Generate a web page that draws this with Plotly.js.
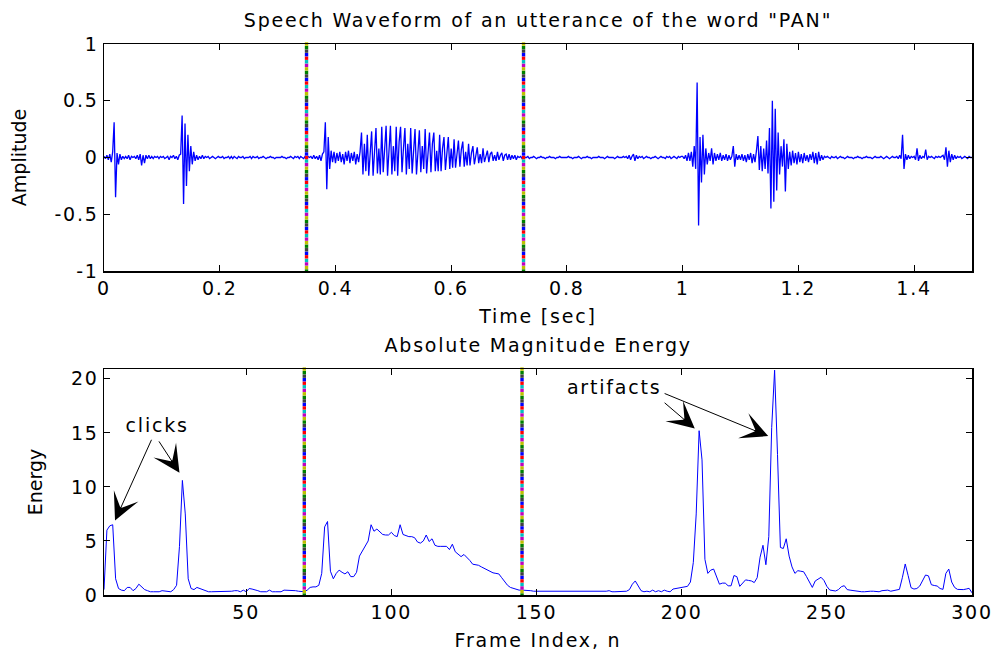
<!DOCTYPE html>
<html>
<head>
<meta charset="utf-8">
<script src="https://cdn.plot.ly/plotly-3.0.1.min.js"></script>
<style>
  html, body { margin: 0; padding: 0; background: #fff; }
  #chart { width: 998px; height: 652px; }
  /* the reference text is horizontally stretched: widen horizontal text a little */
  #chart svg text { letter-spacing: 1.8px; }
  #chart svg text.ytitle, #chart svg text.y2title { letter-spacing: 0px; }
</style>
</head>
<body>
<div id="chart"></div>
<script>
// ---------------- DATA ----------------
// Waveform amplitude samples, one every 0.0025 s from 0 to 1.5 s
const waveStep = 0.0025;
const waveAmp = [
  0.01,-0.01,0.02,-0.02,0.03,-0.04,0.05,0.31,-0.35,0.04,-0.06,0.03,-0.02,0.01,-0.01,0.01,-0.01,0.02,-0.02,0.01,
  0.00,0.01,-0.01,0.02,-0.02,0.03,-0.07,0.02,-0.05,0.02,-0.01,0.02,-0.01,0.01,-0.01,0.01,0.00,0.01,-0.01,0.01,
  0.00,0.01,-0.01,0.00,0.01,-0.02,0.01,0.00,0.02,-0.01,0.01,-0.02,0.02,0.03,0.37,-0.41,0.30,-0.25,0.20,-0.12,
  0.10,-0.06,0.05,-0.03,0.02,-0.02,0.01,-0.01,0.02,-0.01,0.01,0.00,0.01,-0.01,0.00,0.01,0.00,-0.01,0.00,0.01,
  0.00,0.00,0.01,-0.01,0.00,0.00,0.01,-0.01,0.01,-0.01,0.01,0.00,-0.01,0.01,0.00,0.00,0.01,-0.01,0.00,0.00,
  0.00,0.01,-0.01,0.01,0.00,0.00,0.01,-0.01,0.00,0.00,0.01,0.00,-0.01,0.00,0.00,0.01,0.00,0.00,-0.01,0.00,
  0.00,0.00,0.00,0.01,0.00,0.00,-0.01,0.00,0.00,0.01,0.00,-0.01,0.01,0.00,0.01,-0.01,0.01,0.00,-0.01,0.01,
  -0.01,0.01,0.00,0.01,-0.01,0.02,-0.01,0.01,-0.02,0.02,-0.03,0.03,0.05,0.31,-0.28,0.18,-0.10,0.06,-0.04,0.05,
  -0.05,0.04,-0.03,0.05,-0.04,0.03,-0.06,0.05,-0.03,0.06,-0.05,0.04,-0.03,0.05,-0.06,0.03,-0.04,0.05,0.22,-0.15,
  0.12,-0.12,0.20,-0.16,0.05,0.23,-0.16,0.10,0.26,-0.14,0.08,-0.15,0.27,-0.13,0.12,0.28,-0.16,0.06,0.28,-0.15,
  0.10,-0.12,0.27,-0.16,0.14,0.27,-0.13,0.08,0.26,-0.15,0.12,-0.10,0.26,-0.14,0.10,0.25,-0.15,0.07,0.24,-0.13,
  0.10,-0.10,0.25,-0.14,0.08,0.22,-0.13,0.12,0.22,-0.12,0.06,-0.12,0.20,-0.12,0.08,0.18,-0.11,0.05,0.18,-0.10,
  0.08,-0.09,0.16,-0.09,0.06,0.15,-0.08,0.07,0.14,-0.08,0.05,-0.07,0.12,-0.07,0.04,0.10,-0.06,0.04,0.09,-0.05,
  0.03,-0.05,0.08,-0.04,0.02,0.06,-0.04,0.03,0.05,-0.03,0.02,-0.03,0.05,-0.02,0.02,0.04,-0.03,0.02,0.03,-0.02,
  0.03,-0.02,0.02,-0.01,0.02,-0.02,0.01,0.00,0.01,-0.01,0.01,0.00,0.00,0.01,-0.01,0.00,0.00,0.01,0.00,-0.01,
  0.00,0.00,0.01,0.00,0.00,-0.01,0.00,0.00,0.01,0.00,0.00,0.00,-0.01,0.00,0.00,0.01,0.00,0.00,0.00,0.00,
  0.00,0.01,0.00,0.00,-0.01,0.00,0.00,0.00,0.01,0.00,-0.01,0.00,0.00,0.00,0.01,0.00,0.00,-0.01,0.00,0.00,
  0.00,0.00,0.01,0.00,0.00,0.00,-0.01,0.00,0.01,0.00,0.00,0.00,0.00,-0.01,0.00,0.01,0.00,0.00,0.00,0.01,
  0.00,0.01,-0.01,0.02,-0.02,0.01,0.03,-0.03,0.02,-0.01,0.01,0.00,0.01,-0.01,0.00,0.01,0.00,0.00,-0.01,0.00,
  0.00,0.01,0.00,-0.01,0.00,0.01,0.00,0.00,-0.01,0.01,0.00,0.01,-0.01,0.00,0.01,0.00,-0.01,0.01,0.00,0.01,
  0.01,-0.01,0.02,-0.03,0.04,-0.03,0.05,-0.08,0.10,-0.10,0.66,-0.60,0.18,-0.22,0.20,-0.15,0.08,-0.06,0.04,-0.03,
  0.08,-0.06,0.04,-0.03,0.03,-0.02,0.04,-0.03,0.02,-0.02,0.03,-0.03,0.02,-0.02,0.01,0.10,-0.08,0.03,-0.02,0.02,
  -0.02,0.03,-0.03,0.02,-0.04,0.03,-0.02,0.04,-0.05,0.03,-0.04,0.06,0.19,-0.11,0.10,-0.12,0.08,-0.10,0.15,-0.14,
  0.26,-0.45,0.50,-0.39,0.43,-0.29,0.22,-0.15,0.10,-0.08,0.16,-0.30,0.12,-0.10,0.05,-0.07,0.06,-0.05,0.04,-0.06,
  0.05,-0.04,0.03,-0.05,0.04,-0.03,0.02,-0.04,0.03,-0.02,0.05,-0.05,0.04,-0.06,0.05,-0.03,0.02,-0.02,0.01,0.00,
  0.01,0.00,-0.01,0.01,0.00,0.00,0.01,-0.01,0.00,0.01,0.00,0.00,-0.01,0.00,0.01,0.00,0.00,0.00,-0.01,0.00,
  0.00,0.01,0.00,0.00,-0.01,0.00,0.00,0.01,0.00,0.00,0.00,-0.01,0.00,0.01,0.00,0.00,0.00,0.01,0.00,-0.01,
  0.00,0.01,0.00,-0.01,0.00,0.01,0.00,0.00,0.01,-0.01,0.02,-0.01,0.20,-0.10,0.03,-0.02,0.02,-0.01,0.01,0.00,
  0.01,-0.02,0.08,-0.03,0.02,-0.01,0.01,0.00,0.07,-0.02,0.01,0.00,0.01,0.00,-0.01,0.01,0.00,0.01,0.00,0.01,
  0.02,-0.02,0.09,-0.08,0.06,-0.04,0.03,-0.02,0.02,-0.01,0.01,0.00,0.01,-0.01,0.00,0.01,0.00,-0.01,0.01,0.00,
  0.00
];

// Absolute magnitude energy per frame, frames 1..300
const energy = [
  0.5,6.0,6.4,6.5,1.5,0.6,0.45,0.4,0.7,0.7,
  0.4,0.6,1.0,0.7,0.5,0.4,0.3,0.3,0.3,0.3,
  0.4,0.35,0.3,0.3,0.5,0.9,4.5,10.6,7.5,1.5,
  0.6,0.5,0.7,0.6,0.45,0.35,0.3,0.3,0.3,0.3,
  0.3,0.3,0.3,0.3,0.35,0.4,0.4,0.3,0.45,0.3,
  0.6,0.55,0.5,0.4,0.3,0.3,0.3,0.45,0.3,0.3,
  0.3,0.3,0.45,0.45,0.45,0.45,0.4,0.35,0.3,0.3,
  0.45,0.7,0.75,0.75,0.9,2.0,6.3,6.8,2.2,1.5,
  2.0,2.3,2.1,1.95,2.15,1.7,1.7,2.1,3.6,4.1,
  4.5,5.0,6.5,5.9,6.1,5.8,5.6,5.55,5.55,5.8,
  5.5,5.4,6.5,5.6,5.5,5.4,5.4,5.3,4.9,4.8,
  5.0,5.55,4.95,5.2,4.6,4.5,4.5,4.5,4.5,4.2,
  4.7,4.0,3.8,3.55,3.75,3.5,3.2,2.85,2.8,2.75,
  2.6,2.45,2.3,2.15,2.05,2.0,1.95,1.6,1.2,0.9,
  0.7,0.6,0.5,0.45,0.45,0.45,0.4,0.4,0.35,0.35,
  0.3,0.35,0.3,0.3,0.3,0.3,0.35,0.3,0.3,0.3,
  0.3,0.3,0.3,0.3,0.3,0.3,0.3,0.3,0.3,0.3,
  0.3,0.3,0.3,0.35,0.4,0.3,0.3,0.3,0.3,0.3,
  0.35,0.5,1.0,1.3,0.8,0.4,0.3,0.35,0.3,0.45,
  0.3,0.4,0.3,0.45,0.35,0.3,0.55,0.6,0.65,0.68,
  0.7,0.8,1.2,3.0,7.5,15.2,12.5,3.3,2.0,2.3,
  2.4,1.7,1.0,1.1,1.1,0.85,0.85,1.8,1.7,0.8,
  1.1,1.4,1.35,1.3,1.15,1.6,3.5,4.6,2.8,5.4,
  15.5,20.8,13.0,4.4,4.3,5.2,3.6,2.6,2.0,2.25,
  2.2,2.15,1.7,1.2,0.7,1.3,1.5,1.64,1.35,0.8,
  0.46,0.4,0.37,0.5,0.77,0.86,0.5,0.45,0.4,0.35,
  0.35,0.3,0.3,0.35,0.35,0.35,0.3,0.3,0.4,0.45,
  0.45,0.35,0.4,0.45,0.52,1.6,2.87,1.8,0.68,0.55,
  0.6,0.83,1.4,1.85,1.77,0.95,0.88,0.83,0.6,0.52,
  2.0,2.4,1.2,0.7,0.52,0.5,0.5,0.55,0.62,0.2
];

// Detected speech boundaries
const boundaryFrames = [70, 145];
const boundaryTimes = [0.35, 0.725];

// Tick values / labels
const timeTicks = [0, 0.2, 0.4, 0.6, 0.8, 1, 1.2, 1.4];
const timeTickText = ['0', '0.2', '0.4', '0.6', '0.8', '1', '1.2', '1.4'];
const ampTicks = [-1, -0.5, 0, 0.5, 1];
const ampTickText = ['-1', '-0.5', '0', '0.5', '1'];
const frameTicks = [50, 100, 150, 200, 250, 300];
const frameTickText = ['50', '100', '150', '200', '250', '300'];
const energyTicks = [0, 5, 10, 15, 20];
const energyTickText = ['0', '5', '10', '15', '20'];

// Texts
const mainTitle = 'Speech Waveform of an utterance of the word "PAN"';
const subTitle = 'Absolute Magnitude Energy';
const clickLabel = 'clicks';
const artifactLabel = 'artifacts';
const clickArrows = [ {tail:[17.6,14.5], tip:[4.8,6.9]}, {tail:[19.6,14.35], tip:[27.0,11.3]} ];
const artifactArrows = [ {tail:[193.6,17.9], tip:[204.5,15.4]}, {tail:[193.6,18.7], tip:[229.8,14.7]} ];

// ---------------- BUILD ----------------
const waveT = waveAmp.map((_, i) => i * waveStep);
const frameIdx = energy.map((_, i) => i + 1);

const FONT = 'DejaVu Sans, Verdana, sans-serif';
const dotColors = ['#008000', '#BFBF00', '#BF00BF', '#00BFBF', '#FF0000', '#0000FF', '#404040'];
const NDOTS = 64;

function dottedBoundary(xv, y0, y1, xa, ya) {
  const xs = [], ys = [], cs = [];
  for (let i = 0; i <= NDOTS; i++) {
    xs.push(xv);
    ys.push(y0 + (y1 - y0) * i / NDOTS);
    cs.push(dotColors[i % dotColors.length]);
  }
  return { x: xs, y: ys, xaxis: xa, yaxis: ya, type: 'scatter', mode: 'markers',
           marker: { symbol: 'square', size: 3.4, color: cs, line: {width: 0} },
           hoverinfo: 'skip', showlegend: false, cliponaxis: false };
}

const energyMax = 20.9;

const traces = [
  { x: waveT, y: waveAmp, xaxis: 'x', yaxis: 'y', type: 'scatter', mode: 'lines',
    line: { color: '#0000FF', width: 1.3 }, showlegend: false },
  { x: frameIdx, y: energy, xaxis: 'x2', yaxis: 'y2', type: 'scatter', mode: 'lines',
    line: { color: '#0000FF', width: 1 }, showlegend: false },
];
boundaryTimes.forEach(t => traces.push(dottedBoundary(t, -1, 1, 'x', 'y')));
boundaryFrames.forEach(f => traces.push(dottedBoundary(f, 0, energyMax, 'x2', 'y2')));

const axisCommon = {
  showline: true, linecolor: '#000', linewidth: 1.5, mirror: 'ticks',
  ticks: 'inside', ticklen: 6, tickwidth: 1, tickcolor: '#000',
  showgrid: false, zeroline: false,
  tickfont: { family: FONT, size: 19, color: '#000' },
  tickmode: 'array', automargin: false
};

function arrowAnn(a) {
  return { xref: 'x2', yref: 'y2', axref: 'x2', ayref: 'y2',
    x: a.tip[0], y: a.tip[1], ax: a.tail[0], ay: a.tail[1],
    text: '', showarrow: true, arrowhead: 3, arrowsize: 4.5, arrowwidth: 1, arrowcolor: '#000' };
}

const annotations = [
  { text: subTitle, xref: 'paper', yref: 'paper', x: 0.5, y: 0.454, showarrow: false,
    font: { family: FONT, size: 19, color: '#000' }, xanchor: 'center', yanchor: 'middle' },
  { text: clickLabel, xref: 'x2', yref: 'y2', x: 19.2, y: 15.7, showarrow: false,
    font: { family: FONT, size: 19, color: '#000' }, xanchor: 'center', yanchor: 'middle' },
  { text: artifactLabel, xref: 'x2', yref: 'y2', x: 176.8, y: 19.2, showarrow: false,
    font: { family: FONT, size: 19, color: '#000' }, xanchor: 'center', yanchor: 'middle' },
].concat(clickArrows.map(arrowAnn), artifactArrows.map(arrowAnn));

const layout = {
  width: 998, height: 652,
  margin: { l: 104, r: 26, t: 44, b: 57, pad: 0 },
  paper_bgcolor: '#fff', plot_bgcolor: '#fff',
  showlegend: false,
  font: { family: FONT, size: 19, color: '#000' },
  title: { text: mainTitle, xref: 'paper', x: 0.5, xanchor: 'center',
           yref: 'container', y: 1 - 20 / 652, yanchor: 'middle',
           font: { family: FONT, size: 19, color: '#000' } },
  xaxis: Object.assign({}, axisCommon, { domain: [0, 1], range: [0, 1.5], anchor: 'y',
           tickvals: timeTicks, ticktext: timeTickText,
           title: { text: 'Time [sec]', standoff: 11, font: { family: FONT, size: 19, color: '#000' } } }),
  yaxis: Object.assign({}, axisCommon, { domain: [0.588, 1], range: [-1, 1], anchor: 'x',
           tickvals: ampTicks, ticktext: ampTickText,
           title: { text: 'Amplitude', standoff: 30, font: { family: FONT, size: 19, color: '#000' } } }),
  xaxis2: Object.assign({}, axisCommon, { domain: [0, 1], range: [1, 300], anchor: 'y2',
           tickvals: frameTicks, ticktext: frameTickText,
           title: { text: 'Frame Index, n', standoff: 11, font: { family: FONT, size: 19, color: '#000' } } }),
  yaxis2: Object.assign({}, axisCommon, { domain: [0, 0.410], range: [0, energyMax], anchor: 'x2',
           tickvals: energyTicks, ticktext: energyTickText,
           title: { text: 'Energy', standoff: 27, font: { family: FONT, size: 19, color: '#000' } } }),
  annotations: annotations
};

Plotly.newPlot('chart', traces, layout, { staticPlot: true, displayModeBar: false });
</script>
</body>
</html>
